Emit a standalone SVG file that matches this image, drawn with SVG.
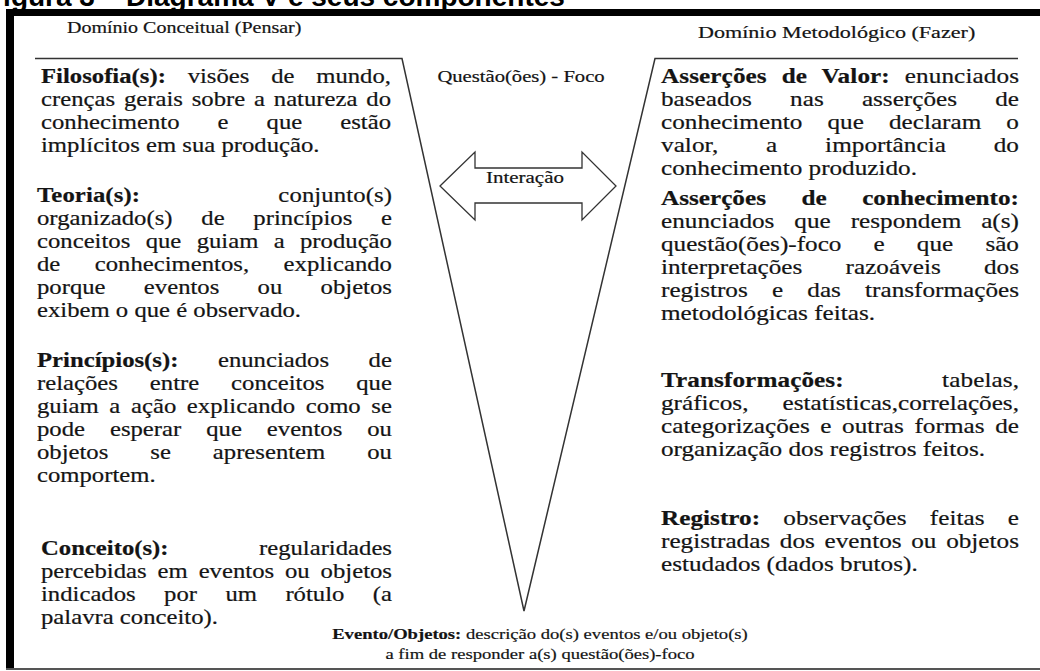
<svg xmlns="http://www.w3.org/2000/svg" width="1040" height="671" viewBox="0 0 1040 671">
<style>
.t{font-family:"Liberation Serif","Times New Roman",serif;fill:#141414;stroke:#141414;stroke-width:0.2;font-variant-ligatures:none;}
.b{font-weight:bold;}
.ln{stroke:#333;stroke-width:1.5;fill:none;}
</style>
<rect width="1040" height="671" fill="#fff"/>
<g id="caption">
<text x="-14" y="6" font-family="'Liberation Sans',Arial,sans-serif" font-weight="bold" font-size="28" fill="#000">Figura 3 – Diagrama V e seus componentes</text>
</g>
<g id="frame">
<rect x="6" y="9" width="1034" height="7" fill="#000"/>
<rect x="6" y="9" width="8" height="660" fill="#000"/>
<line x1="6" y1="669" x2="1040" y2="669" stroke="#555" stroke-width="2"/>
</g>
<g id="connectors">
<polyline class="ln" points="35,58.5 402,58.5 524,611 655,58.5 1018,58.5"/>
<polygon id="arrow-interacao" points="440,186 475,152 475,168 582,168 582,152 616,186 582,220 582,203 475,203 475,220" fill="#fff" stroke="#333" stroke-width="1.3"/>
</g>
<g id="header-conceitual" class="t" font-size="16" transform="matrix(1.25 0 0 1 67 0)">
<text x="0" y="33">Domínio Conceitual (Pensar)</text>
</g>
<g id="header-metodologico" class="t" font-size="17" transform="matrix(1.3 0 0 1 698 0)">
<text x="0" y="38">Domínio Metodológico (Fazer)</text>
</g>
<g id="questao" class="t" font-size="16" text-anchor="middle" transform="matrix(1.29 0 0 1 521 0)">
<text x="0" y="82">Questão(ões) - Foco</text>
</g>
<g id="interacao" class="t" font-size="16" text-anchor="middle" transform="matrix(1.31 0 0 1 525 0)">
<text x="0" y="183">Interação</text>
</g>
<g id="filosofia" class="t" font-size="20" transform="matrix(1.235 0 0 1 41 0)">
<text y="83" word-spacing="12.6" textLength="283.4" lengthAdjust="spacing"><tspan class="b">Filosofia(s):</tspan> visões de mundo,</text>
<text y="106" word-spacing="2.1" textLength="283.4" lengthAdjust="spacing">crenças gerais sobre a natureza do</text>
<text y="129" word-spacing="25.8" textLength="283.4" lengthAdjust="spacing">conhecimento e que estão</text>
<text y="152">implícitos em sua produção.</text>
</g>
<g id="teoria" class="t" font-size="20" transform="matrix(1.235 0 0 1 37 0)">
<text y="202" word-spacing="106.9" textLength="287.4" lengthAdjust="spacing"><tspan class="b">Teoria(s):</tspan> conjunto(s)</text>
<text y="225" word-spacing="18.2" textLength="287.4" lengthAdjust="spacing">organizado(s) de princípios e</text>
<text y="248" word-spacing="7.4" textLength="287.4" lengthAdjust="spacing">conceitos que guiam a produção</text>
<text y="271" word-spacing="22.9" textLength="287.4" lengthAdjust="spacing">de conhecimentos, explicando</text>
<text y="294" word-spacing="26" textLength="287.4" lengthAdjust="spacing">porque eventos ou objetos</text>
<text y="317">exibem o que é observado.</text>
</g>
<g id="principios" class="t" font-size="20" transform="matrix(1.235 0 0 1 37 0)">
<text y="367" word-spacing="27" textLength="287.4" lengthAdjust="spacing"><tspan class="b">Princípios(s):</tspan> enunciados de</text>
<text y="390" word-spacing="20.8" textLength="287.4" lengthAdjust="spacing">relações entre conceitos que</text>
<text y="413" word-spacing="3.6" textLength="287.4" lengthAdjust="spacing">guiam a ação explicando como se</text>
<text y="436" word-spacing="15.2" textLength="287.4" lengthAdjust="spacing">pode esperar que eventos ou</text>
<text y="459" word-spacing="29" textLength="287.4" lengthAdjust="spacing">objetos se apresentem ou</text>
<text y="482">comportem.</text>
</g>
<g id="conceito" class="t" font-size="20" transform="matrix(1.235 0 0 1 41 0)">
<text y="555" word-spacing="68.2" textLength="284.2" lengthAdjust="spacing"><tspan class="b">Conceito(s):</tspan> regularidades</text>
<text y="578" word-spacing="3.8" textLength="284.2" lengthAdjust="spacing">percebidas em eventos ou objetos</text>
<text y="601" word-spacing="18" textLength="284.2" lengthAdjust="spacing">indicados por um rótulo (a</text>
<text y="624">palavra conceito).</text>
</g>
<g id="assercoes-valor" class="t" font-size="20" transform="matrix(1.26 0 0 1 661 0)">
<text y="83" word-spacing="6.8" textLength="284.1" lengthAdjust="spacing"><tspan class="b">Asserções de Valor:</tspan> enunciados</text>
<text y="106" word-spacing="25.3" textLength="284.1" lengthAdjust="spacing">baseados nas asserções de</text>
<text y="129" word-spacing="14.9" textLength="284.1" lengthAdjust="spacing">conhecimento que declaram o</text>
<text y="152" word-spacing="32.9" textLength="284.1" lengthAdjust="spacing">valor, a importância do</text>
<text y="175">conhecimento produzido.</text>
</g>
<g id="assercoes-conhecimento" class="t" font-size="20" transform="matrix(1.26 0 0 1 661 0)">
<text y="205" word-spacing="23.2" textLength="284.1" lengthAdjust="spacing" class="b">Asserções de conhecimento:</text>
<text y="228" word-spacing="10.8" textLength="284.1" lengthAdjust="spacing">enunciados que respondem a(s)</text>
<text y="251" word-spacing="20.5" textLength="284.1" lengthAdjust="spacing">questão(ões)-foco e que são</text>
<text y="274" word-spacing="29.3" textLength="284.1" lengthAdjust="spacing">interpretações razoáveis dos</text>
<text y="297" word-spacing="14.2" textLength="284.1" lengthAdjust="spacing">registros e das transformações</text>
<text y="320">metodológicas feitas.</text>
</g>
<g id="transformacoes" class="t" font-size="20" transform="matrix(1.26 0 0 1 661 0)">
<text y="387" word-spacing="73" textLength="284.1" lengthAdjust="spacing"><tspan class="b">Transformações:</tspan> tabelas,</text>
<text y="410" word-spacing="22" textLength="284.1" lengthAdjust="spacing">gráficos, estatísticas,correlações,</text>
<text y="433" word-spacing="3.3" textLength="284.1" lengthAdjust="spacing">categorizações e outras formas de</text>
<text y="456">organização dos registros feitos.</text>
</g>
<g id="registro" class="t" font-size="20" transform="matrix(1.26 0 0 1 661 0)">
<text y="525" word-spacing="13.4" textLength="284.1" lengthAdjust="spacing"><tspan class="b">Registro:</tspan> observações feitas e</text>
<text y="548" word-spacing="2.7" textLength="284.1" lengthAdjust="spacing">registradas dos eventos ou objetos</text>
<text y="571">estudados (dados brutos).</text>
</g>
<g id="evento-objetos" class="t" font-size="15.5" text-anchor="middle" transform="matrix(1.2 0 0 1 540 0)">
<text x="0" y="639"><tspan class="b">Evento/Objetos:</tspan> descrição do(s) eventos e/ou objeto(s)</text>
<text x="0" y="659">a fim de responder a(s) questão(ões)-foco</text>
</g>
</svg>
